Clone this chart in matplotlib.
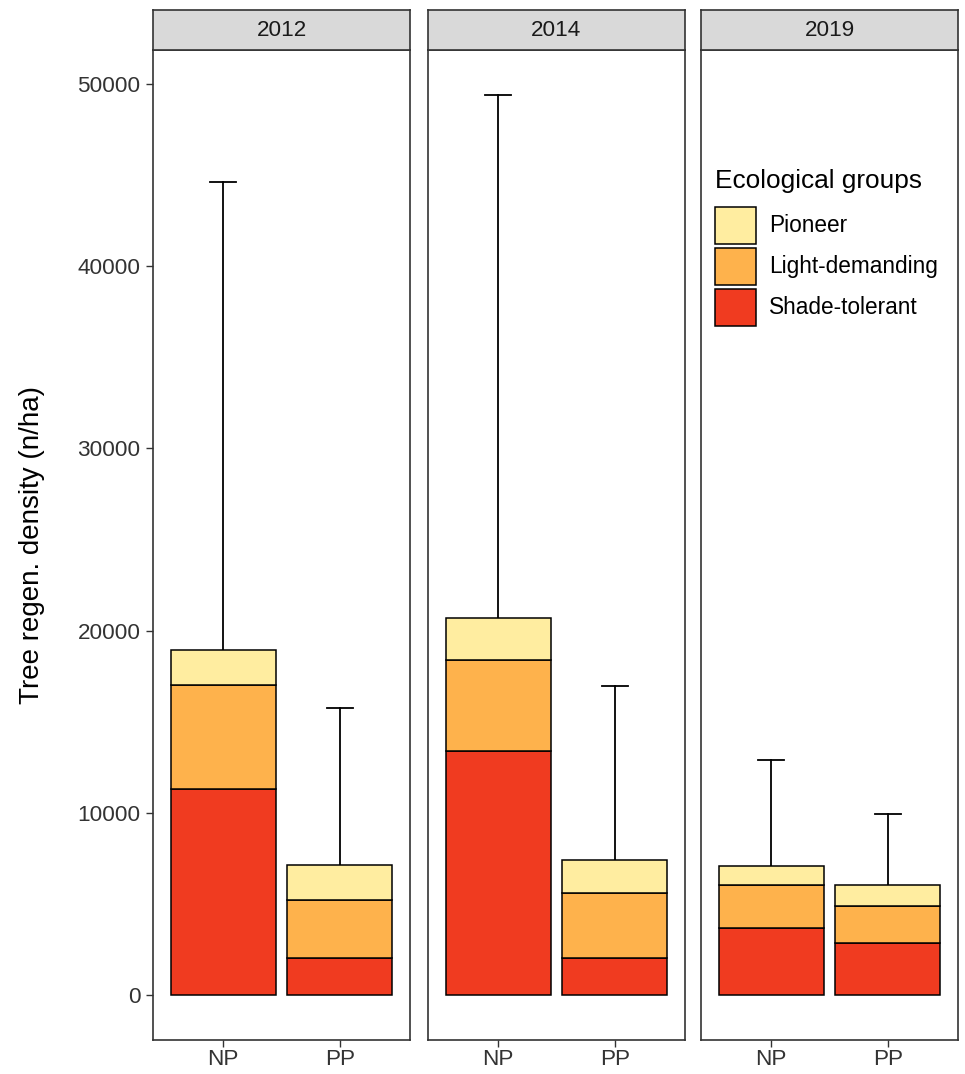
import matplotlib
matplotlib.use("Agg")
import matplotlib.pyplot as plt
from matplotlib.patches import Rectangle

plt.rcParams['font.family'] = ['Liberation Sans', 'DejaVu Sans']

years = ['2012', '2014', '2019']
sites = ['NP', 'PP']
legend_order = ['Pioneer', 'Light-demanding', 'Shade-tolerant']
colors = {'Pioneer': '#FFEDA0', 'Light-demanding': '#FEB24C', 'Shade-tolerant': '#F03B20'}

# stacked values per year: [NP, PP]
shade = {'2012': [11300, 2040], '2014': [13400, 2040], '2019': [3690, 2870]}
light = {'2012': [5730, 3200], '2014': [4960, 3580], '2019': [2320, 2040]}
pioneer = {'2012': [1880, 1870], '2014': [2310, 1770], '2019': [1050, 1150]}
err_top = {'2012': [44600, 15770], '2014': [49390, 16980], '2019': [12900, 9920]}
yticks = [0, 10000, 20000, 30000, 40000, 50000]

W, H = 965, 1074
fig = plt.figure(figsize=(W / 100, H / 100), dpi=100)

lefts = [153, 428, 701]
pw = 257
top, bottom = 50, 1040
strip_h = 40
ymin, ymax = -2470, 51860
fs = 16.2

axes = []
for i, yr in enumerate(years):
    ax = fig.add_axes([lefts[i] / W, 1 - bottom / H, pw / W, (bottom - top) / H])
    x = [1, 2]
    base = [0, 0]
    for g, vals in [('Shade-tolerant', shade), ('Light-demanding', light), ('Pioneer', pioneer)]:
        v = vals[yr]
        ax.bar(x, v, width=0.9, bottom=base, color=colors[g], edgecolor='black', linewidth=1.1, zorder=2)
        base = [base[k] + v[k] for k in range(2)]
    for k in range(2):
        ax.plot([x[k], x[k]], [base[k], err_top[yr][k]], color='black', lw=1.3, zorder=1)
        ax.plot([x[k] - 0.11, x[k] + 0.11], [err_top[yr][k]] * 2, color='black', lw=1.3, zorder=1)
    ax.set_xlim(0.4, 2.6)
    ax.set_ylim(ymin, ymax)
    ax.set_xticks(x)
    ax.set_xticklabels(sites, fontsize=fs, color='#333333')
    ax.tick_params(axis='x', length=5, width=1, color='#333333', pad=1.5)
    if i == 0:
        ax.set_yticks(yticks)
        ax.set_yticklabels([str(t) for t in yticks], fontsize=fs, color='#333333')
        ax.tick_params(axis='y', length=5, width=1, color='#333333', pad=4)
        ax.set_ylabel('Tree regen. density (n/ha)', fontsize=20, labelpad=23)
    else:
        ax.set_yticks([])
    for s in ax.spines.values():
        s.set_color('#333333')
        s.set_linewidth(1.2)
    axes.append(ax)

    # facet strip
    sax = fig.add_axes([lefts[i] / W, 1 - top / H, pw / W, strip_h / H])
    sax.set_facecolor('#D9D9D9')
    sax.set_xticks([])
    sax.set_yticks([])
    for s in sax.spines.values():
        s.set_color('#333333')
        s.set_linewidth(1.2)
    sax.text(0.5, 0.5, yr, ha='center', va='center', fontsize=fs, color='#1a1a1a', transform=sax.transAxes)


# legend drawn by hand inside the 2019 panel (figure pixel coordinates)
def px(xp, yp):
    return xp / W, 1 - yp / H


fig.text(*px(715, 181), 'Ecological groups', fontsize=18.9, ha='left', va='center')
key_tops = [207, 248, 289]
for g, ky in zip(legend_order, key_tops):
    x0, y0 = px(715, ky + 37)
    fig.patches.append(Rectangle((x0, y0), 41 / W, 37 / H, transform=fig.transFigure,
                                 facecolor=colors[g], edgecolor='black', linewidth=1.1))
    fig.text(*px(769, ky + 19), g, fontsize=16.3, ha='left', va='center')

fig.savefig('out.png', dpi=100)
